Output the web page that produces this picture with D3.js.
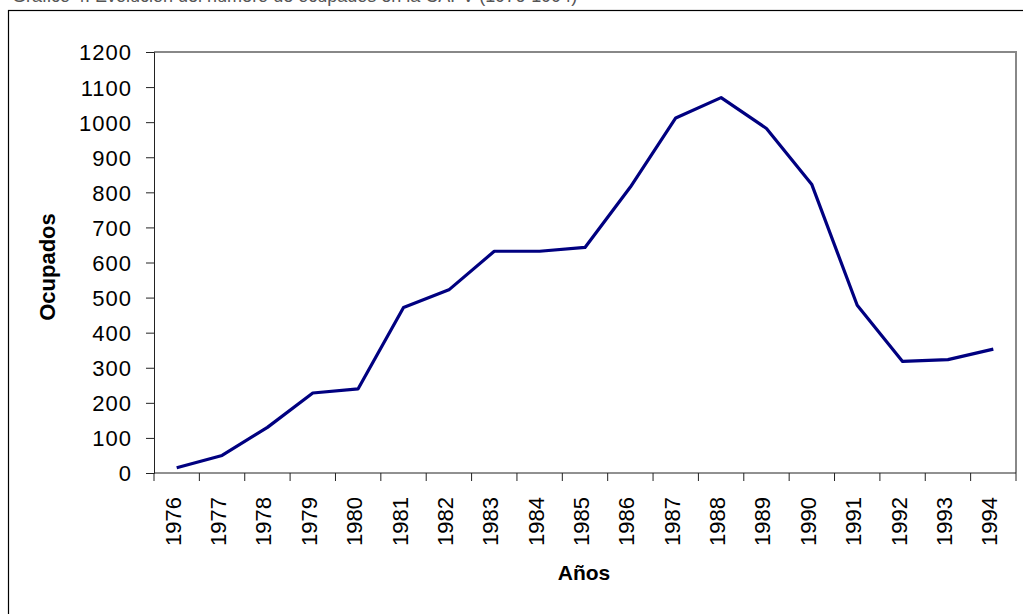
<!DOCTYPE html>
<html>
<head>
<meta charset="utf-8">
<script src="https://cdn.jsdelivr.net/npm/d3@7"></script>
<style>
  html, body { margin: 0; padding: 0; background: #fff; }
  svg { display: block; font-family: "Liberation Sans", Arial, sans-serif; }
</style>
</head>
<body>
<div id="chart"></div>
<script>
const years = ['1976', '1977', '1978', '1979', '1980', '1981', '1982', '1983', '1984', '1985',
  '1986', '1987', '1988', '1989', '1990', '1991', '1992', '1993', '1994'];
const ocupados = [15, 50, 130, 228, 240, 472, 522, 632, 632, 643,
  815, 1012, 1070, 982, 822, 478, 318, 323, 353];
const yTicks = [0, 100, 200, 300, 400, 500, 600, 700, 800, 900, 1000, 1100, 1200];

const width = 1023;
const height = 614;
const margin = { top: 52, right: 7, bottom: 141, left: 154 };

const svg = d3.select('#chart')
  .append('svg')
  .attr('width', width)
  .attr('height', height);

// title, cut off by the top edge as in the source picture
svg.append('text')
  .attr('x', 12)
  .attr('y', 2)
  .style('font-size', '18px')
  .attr('fill', '#555')
  .text('Gráfico 4. Evolución del número de ocupados en la CAPV (1976-1994)');

// outer chart frame
svg.append('rect')
  .attr('x', 8.5)
  .attr('y', 10.5)
  .attr('width', width + 20)
  .attr('height', height + 20)
  .attr('fill', 'none')
  .attr('stroke', '#000')
  .attr('stroke-width', 1.2);

const x = d3.scaleBand()
  .domain(years)
  .range([margin.left, width - margin.right]);

const y = d3.scaleLinear()
  .domain([0, 1200])
  .range([height - margin.bottom, margin.top]);

// plot area border (top and right)
svg.append('path')
  .attr('d', `M${margin.left},${margin.top}H${width - margin.right}V${height - margin.bottom}`)
  .attr('fill', 'none')
  .attr('stroke', '#888')
  .attr('stroke-width', 2);

// y axis
const yAxis = svg.append('g')
  .attr('transform', `translate(${margin.left},0)`)
  .call(d3.axisLeft(y).tickValues(yTicks).tickFormat(d3.format('d')).tickSize(8).tickPadding(14));
yAxis.selectAll('text')
  .style('font-size', '22px')
  .style('letter-spacing', '1px')
  .attr('dy', '0.36em')
  .attr('fill', '#000');
yAxis.selectAll('line, path').attr('stroke', '#222');

// x axis: ticks on the band edges, labels at centres
const xAxisG = svg.append('g')
  .attr('transform', `translate(0,${height - margin.bottom})`);
xAxisG.append('line')
  .attr('x1', margin.left).attr('x2', width - margin.right)
  .attr('stroke', '#222');
const edges = years.map(d => x(d)).concat([x.range()[1]]);
xAxisG.selectAll('line.tick')
  .data(edges)
  .join('line')
  .attr('class', 'tick')
  .attr('x1', d => d).attr('x2', d => d)
  .attr('y1', 0).attr('y2', 8)
  .attr('stroke', '#222');
xAxisG.selectAll('text')
  .data(years)
  .join('text')
  .attr('transform', d => `translate(${x(d) + x.bandwidth() / 2 + 4},24) rotate(-90)`)
  .attr('text-anchor', 'end')
  .style('font-size', '22px')
  .attr('fill', '#000')
  .text(d => d);

// line
const line = d3.line()
  .x((d, i) => x(years[i]) + x.bandwidth() / 2)
  .y(d => y(d));

svg.append('path')
  .datum(ocupados)
  .attr('fill', 'none')
  .attr('stroke', '#000080')
  .attr('stroke-width', 3.2)
  .attr('stroke-linejoin', 'round')
  .attr('d', line);

// axis titles
svg.append('text')
  .attr('transform', 'translate(55,267) rotate(-90)')
  .attr('text-anchor', 'middle')
  .style('font-size', '22px')
  .style('font-weight', 'bold')
  .text('Ocupados');

svg.append('text')
  .attr('x', 584)
  .attr('y', 580)
  .attr('text-anchor', 'middle')
  .style('font-size', '21px')
  .style('font-weight', 'bold')
  .text('Años');
</script>
</body>
</html>
